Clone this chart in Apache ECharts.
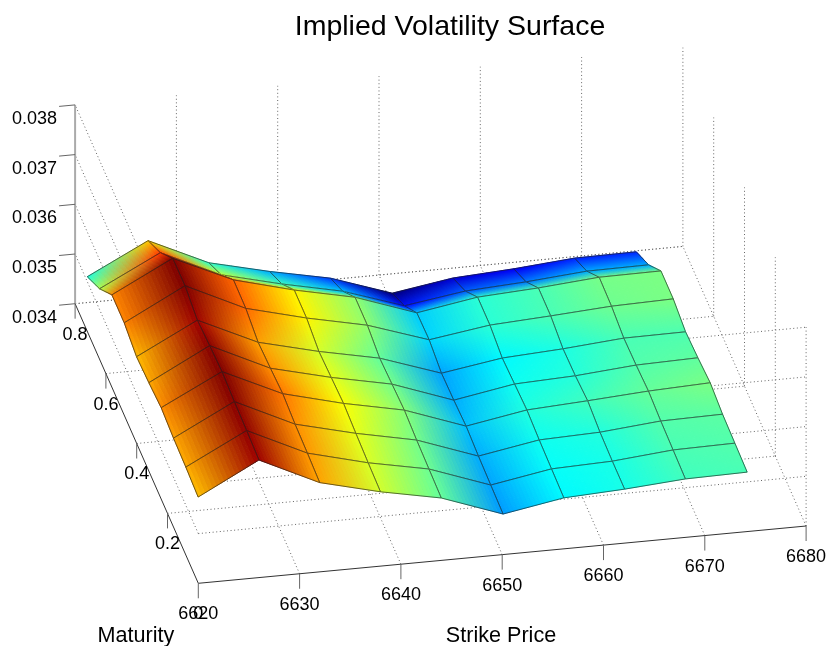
<!DOCTYPE html>
<html><head><meta charset="utf-8">
<style>html,body{margin:0;padding:0;background:#fff}#c{width:827px;height:646px}</style>
<script src="https://cdn.jsdelivr.net/npm/echarts@6/dist/echarts.min.js"></script>
</head><body><div id="c"></div>
<script>
// ---- data ----
const strikes = [6621.2,6627.2,6633.2,6639.2,6645.2,6651.3,6657.3,6663.3,6669.3,6675.4];
const maturities = [0.08,0.16,0.24,0.32,0.40,0.48,0.56,0.64,0.72,0.80];
const volAt008 = [0.03515,0.03578,0.03521,0.03491,0.03467,0.03423,0.03444,0.03450,0.03459,0.03461];
const volAt016 = [0.03519,0.03581,0.03524,0.03493,0.03469,0.03425,0.03446,0.03450,0.03461,0.03463];
const volAt024 = [0.03521,0.03583,0.03526,0.03496,0.03471,0.03427,0.03448,0.03452,0.03463,0.03465];
const volAt032 = [0.03526,0.03587,0.03531,0.03500,0.03475,0.03431,0.03452,0.03459,0.03467,0.03472];
const volAt040 = [0.03520,0.03583,0.03526,0.03496,0.03471,0.03427,0.03448,0.03453,0.03463,0.03466];
const volAt048 = [0.03516,0.03578,0.03522,0.03492,0.03467,0.03425,0.03444,0.03451,0.03461,0.03462];
const volAt056 = [0.03528,0.03591,0.03534,0.03503,0.03477,0.03436,0.03454,0.03461,0.03469,0.03472];
const volAt064 = [0.03528,0.03590,0.03535,0.03503,0.03477,0.03434,0.03454,0.03461,0.03471,0.03472];
const volAt072 = [0.03484,0.03545,0.03489,0.03459,0.03433,0.03392,0.03410,0.03417,0.03427,0.03428];
const volAt080 = [0.03452,0.03513,0.03457,0.03428,0.03403,0.03361,0.03380,0.03387,0.03397,0.03398];
const volRows = [volAt008,volAt016,volAt024,volAt032,volAt040,volAt048,volAt056,volAt064,volAt072,volAt080];
const strikeTicks = [6620,6630,6640,6650,6660,6670,6680];
const maturityTicks = [0,0.2,0.4,0.6,0.8];
const volTicks = [0.034,0.035,0.036,0.037,0.038];
const titleText = 'Implied Volatility Surface';
const xName = 'Strike Price', yName = 'Maturity';

// ---- orthographic view of the 3D box onto the page plane ----
const K0=6620, Kmax=6680, T0=0, Tmax=0.8, Z0=0.034, Zmax=0.038;
const origin=[198.3,583.3], perK=[10.13,-0.955], perT=[-154,-349.5], perZ=-49700;
const project=(k,t,z)=>[origin[0]+(k-K0)*perK[0]+(t-T0)*perT[0],
                        origin[1]+(k-K0)*perK[1]+(t-T0)*perT[1]+(z-Z0)*perZ];
const cMin=0.03361, cMax=0.03585;
function jet(v){
  let f=(v-cMin)/(cMax-cMin); f=Math.max(0,Math.min(1,f));
  const c=x=>255*Math.max(0,Math.min(1,1.5-Math.abs(4*f-x)));
  return [c(3),c(2),c(1)];
}
const FONT='"Liberation Sans",Arial,sans-serif';
const DOT={stroke:'#666',lineWidth:1,lineDash:[1,2.6]};

// ---- line lists built from the ticks ----
const gridSegs=[];
maturityTicks.forEach(t=>{ if(t>T0) gridSegs.push([[K0,t,Z0],[Kmax,t,Z0]]); });
gridSegs.push([[K0,Tmax,Z0],[Kmax,Tmax,Z0]]);
strikeTicks.forEach(k=>{ if(k>K0) gridSegs.push([[k,T0,Z0],[k,Tmax,Z0]]); });
strikeTicks.forEach(k=>{ if(k>K0) gridSegs.push([[k,Tmax,Z0],[k,Tmax,Zmax]]); });
maturityTicks.forEach(t=>{ if(t<Tmax) gridSegs.push([[Kmax,t,Z0],[Kmax,t,Zmax]]); });
volTicks.forEach(z=>{ if(z>Z0){ gridSegs.push([[K0,T0,z],[K0,Tmax,z]]); gridSegs.push([[K0,T0,z],[Kmax,T0,z]]); }});

const cells=[];
for(let r=maturities.length-2;r>=0;r--) for(let c=strikes.length-2;c>=0;c--) cells.push([c,r]);

const SUB=16;
function renderCell(params,api){
  const c=api.value(0), r=api.value(1);
  const Kl=strikes[c],Kr=strikes[c+1],Tl=maturities[r],Th=maturities[r+1];
  const z00=volRows[r][c],z10=volRows[r][c+1],z01=volRows[r+1][c],z11=volRows[r+1][c+1];
  const c00=jet(z00),c10=jet(z10),c01=jet(z01),c11=jet(z11);
  const P=(k,t,z)=>api.coord(project(k,t,z));
  const pt=(u,v)=>{
    const z=(1-u)*(1-v)*z00+u*(1-v)*z10+(1-u)*v*z01+u*v*z11;
    return P(Kl+(Kr-Kl)*u,Tl+(Th-Tl)*v,z);
  };
  const colAt=(u,v)=>{
    const m=i=>Math.round((1-u)*(1-v)*c00[i]+u*(1-v)*c10[i]+(1-u)*v*c01[i]+u*v*c11[i]);
    return `rgb(${m(0)},${m(1)},${m(2)})`;
  };
  const kids=[];
  for(let i=0;i<SUB;i++)for(let j=0;j<SUB;j++){
    const col=colAt((i+.5)/SUB,(j+.5)/SUB);
    kids.push({type:'polygon',shape:{points:[pt(i/SUB,j/SUB),pt((i+1)/SUB,j/SUB),pt((i+1)/SUB,(j+1)/SUB),pt(i/SUB,(j+1)/SUB)]},
      style:{fill:col,stroke:col,lineWidth:1}});
  }
  kids.push({type:'polygon',shape:{points:[P(Kl,Tl,z00),P(Kr,Tl,z10),P(Kr,Th,z11),P(Kl,Th,z01)]},
    style:{fill:'none',stroke:'rgba(30,30,30,0.75)',lineWidth:0.85}});
  return {type:'group',children:kids};
}
function renderGrid(params,api){
  const s=gridSegs[api.value(0)];
  const a=api.coord(project(...s[0])),b=api.coord(project(...s[1]));
  return {type:'line',shape:{x1:a[0],y1:a[1],x2:b[0],y2:b[1]},style:DOT};
}
function line(a,b,stroke,w){return {type:'line',shape:{x1:a[0],y1:a[1],x2:b[0],y2:b[1]},style:{stroke,lineWidth:w}};}
function txt(p,text,size,align,dx,dy){return {type:'text',style:{text,x:p[0]+dx,y:p[1]+dy,fill:'#000',font:`${size}px ${FONT}`,align,verticalAlign:'middle'}};}
function renderAxes(params,api){
  const kids=[];
  const P=(k,t,z)=>api.coord(project(k,t,z));
  kids.push(line(P(K0,T0,Z0),P(Kmax,T0,Z0),'#333',1));
  kids.push(line(P(K0,T0,Z0),P(K0,Tmax,Z0),'#333',1));
  kids.push(line(P(K0,Tmax,Z0),P(K0,Tmax,Zmax),'#aaa',2));
  strikeTicks.forEach(k=>{const p=P(k,T0,Z0);
    kids.push(line(p,[p[0],p[1]+15],'#666',1));
    kids.push(txt(p,String(k),18,'center',0,31));});
  maturityTicks.forEach(t=>{const p=P(K0,t,Z0);
    if(t>T0) kids.push(line(p,[p[0],p[1]+15],'#666',1));
    kids.push(txt(p,String(t),18,'center',0,31));});
  volTicks.forEach(z=>{const p=P(K0,Tmax,z);
    kids.push(line(p,[p[0]-16,p[1]+1.5],'#666',1));
    kids.push(txt(p,z.toFixed(3),18,'right',-18,14));});
  kids.push({type:'text',style:{text:yName,x:136,y:636,fill:'#000',font:`21.6px ${FONT}`,align:'center',verticalAlign:'middle'}});
  kids.push({type:'text',style:{text:xName,x:501,y:636,fill:'#000',font:`21.6px ${FONT}`,align:'center',verticalAlign:'middle'}});
  return {type:'group',children:kids};
}
const chart=echarts.init(document.getElementById('c'),null,{renderer:'canvas'});
chart.setOption({
  animation:false,
  backgroundColor:'#fff',
  title:{text:titleText,left:445,top:8,textAlign:'center',
    textStyle:{fontFamily:FONT,fontSize:28.5,fontWeight:'normal',color:'#000'}},
  grid:{left:0,right:0,top:0,bottom:0},
  xAxis:{type:'value',min:0,max:827,show:false},
  yAxis:{type:'value',min:0,max:646,inverse:true,show:false},
  tooltip:{show:false},
  series:[
    {type:'custom',name:'grid',silent:true,clip:false,z:1,renderItem:renderGrid,data:gridSegs.map((s,i)=>[i])},
    {type:'custom',name:'axes',silent:true,clip:false,z:2,renderItem:renderAxes,data:[[0]]},
    {type:'custom',name:'surface',silent:true,clip:false,z:3,renderItem:renderCell,data:cells}
  ]
});
</script></body></html>
